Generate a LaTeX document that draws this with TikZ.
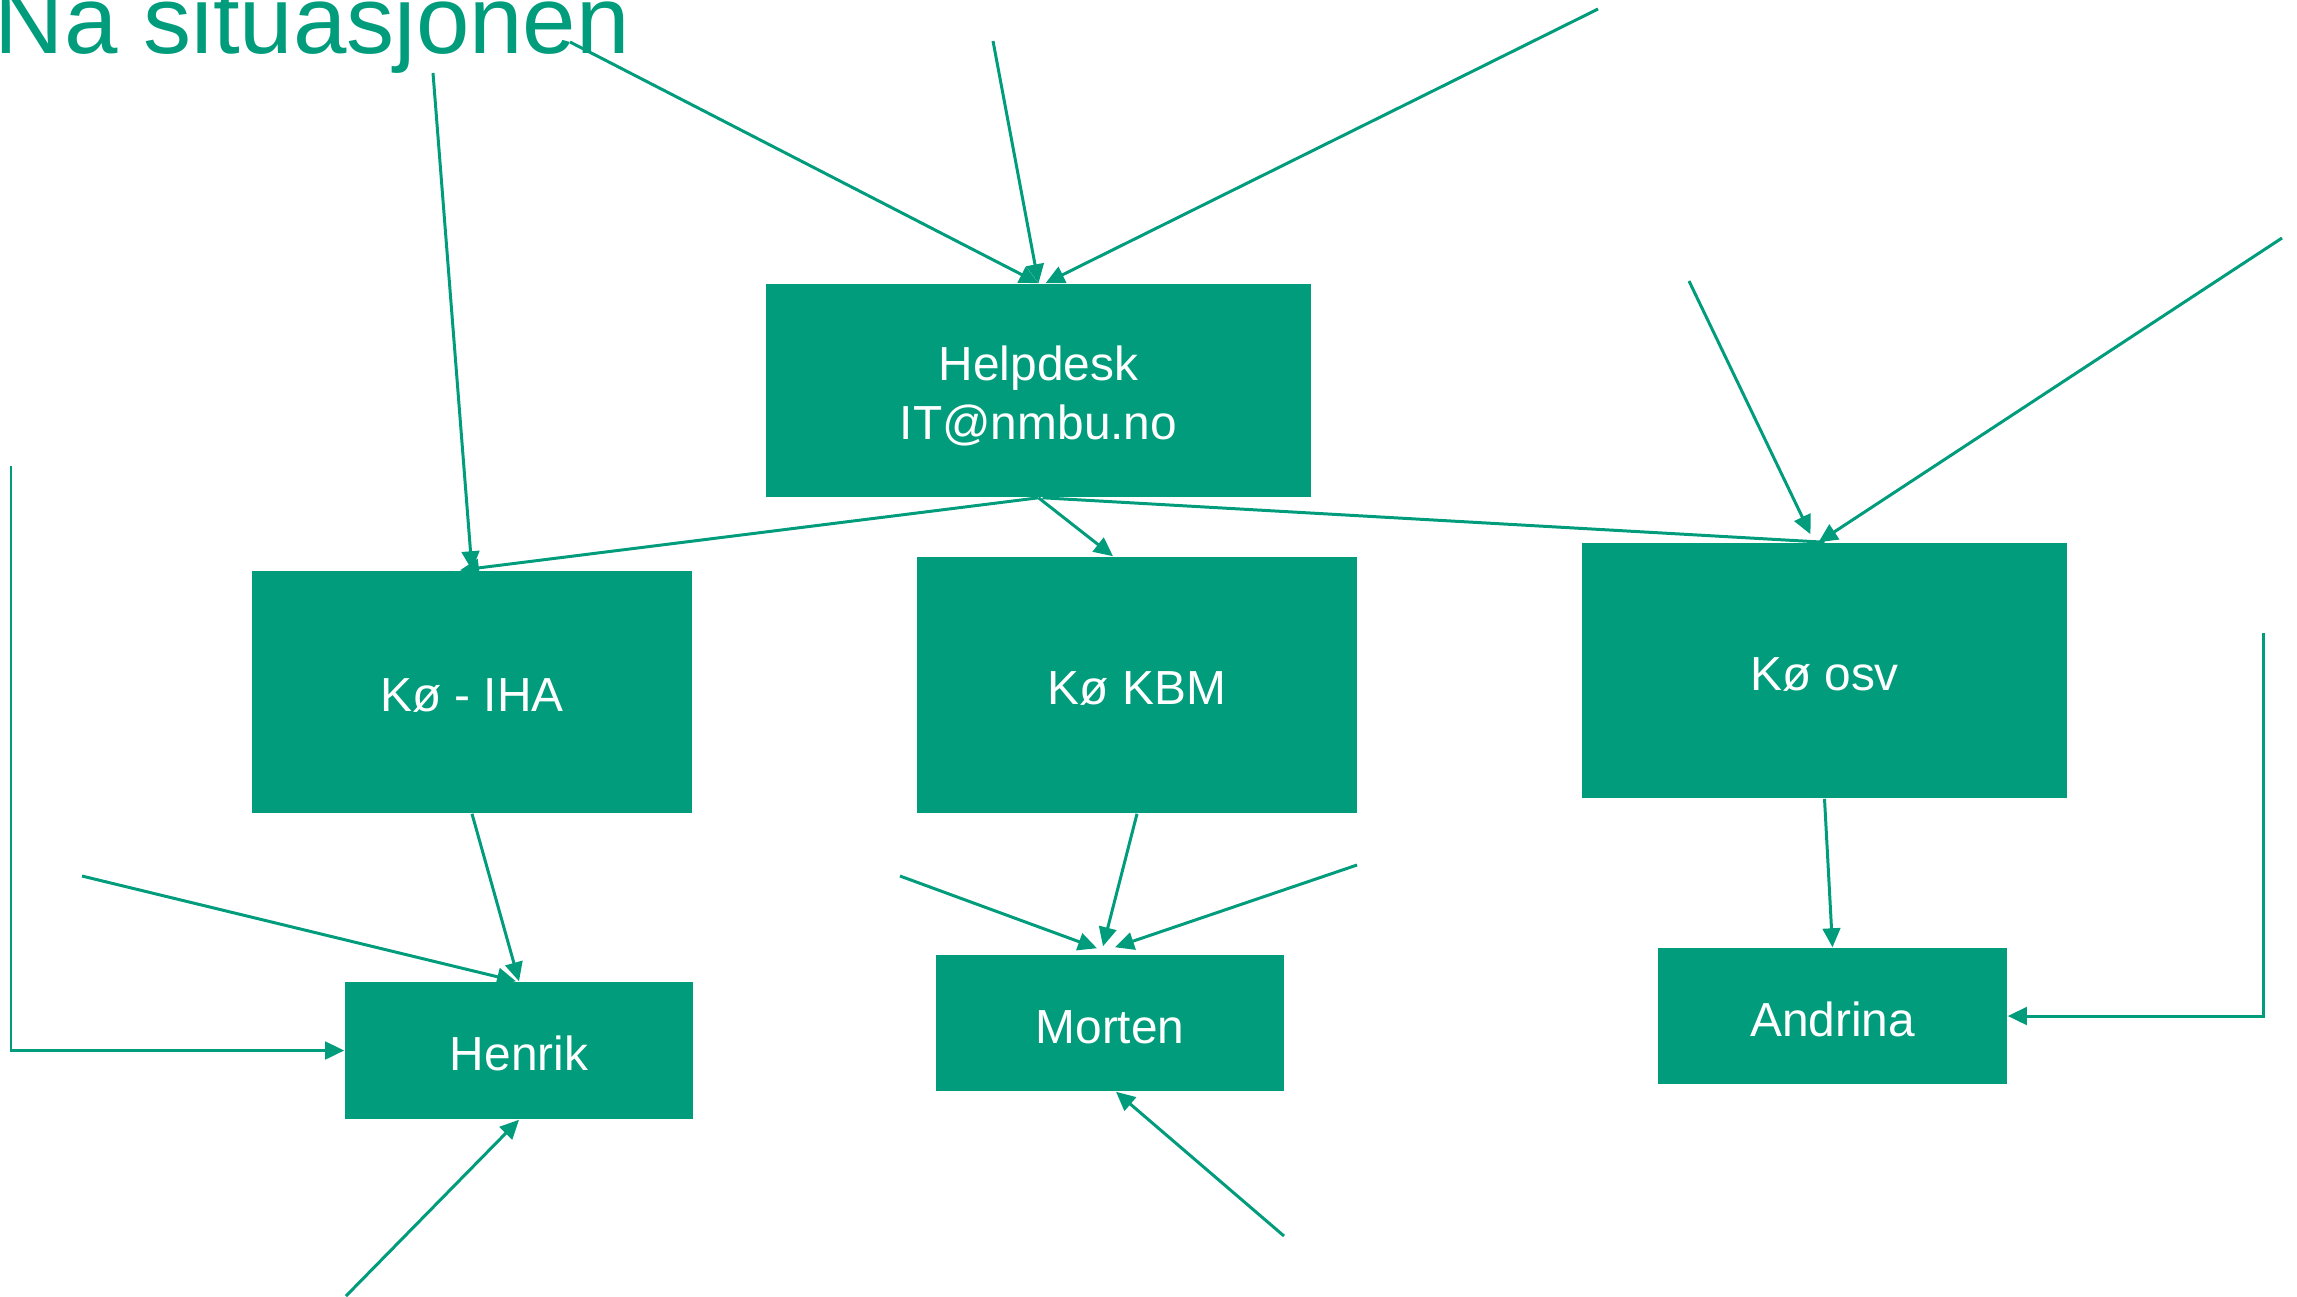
\documentclass[tikz,border=0pt]{standalone}
\usepackage{fontspec}
\setmainfont{Liberation Sans}
\usetikzlibrary{arrows.meta,calc}
\definecolor{nmbugreen}{RGB}{0,156,124}
\tikzset{
  queue/.style={fill=nmbugreen, text=white, inner sep=0pt, align=center,
    text height=11.6pt, font=\fontsize{13.6}{16.9}\selectfont},
  link/.style={draw=nmbugreen, line width=0.85pt, -{Triangle[length=5.4pt,width=5pt]}},
  plainlink/.style={draw=nmbugreen, line width=0.85pt}
}
\begin{document}
\begin{tikzpicture}[x=0.01cm, y=-0.01cm]
  \useasboundingbox (0,0) rectangle (2297,1296);
  % title
  \node[anchor=base west, inner sep=0pt, text=nmbugreen,
    font=\fontsize{27.3}{32}\selectfont] (title) at (-6,53) {Nå situasjonen};

  % draw boxes
  \node[queue, text height=30pt, minimum width=5.45cm, minimum height=2.13cm] (hd) at (1038.5,390.5) {Helpdesk\\IT@nmbu.no};
  \node[queue, minimum width=4.40cm, minimum height=2.42cm] (iha) at ( 472,692)     {Kø - IHA};
  \node[queue, minimum width=4.40cm, minimum height=2.56cm] (kbm) at (1137,685)     {Kø KBM};
  \node[queue, minimum width=4.85cm, minimum height=2.55cm] (osv) at (1824.5,670.5) {Kø osv};
  \node[queue, minimum width=3.48cm, minimum height=1.37cm] (henrik)  at ( 519,1050.5) {Henrik};
  \node[queue, minimum width=3.48cm, minimum height=1.36cm] (morten)  at (1110,1023)   {Morten};
  \node[queue, minimum width=3.49cm, minimum height=1.36cm] (andrina) at (1832.5,1016) {Andrina};

  % free ends
  \coordinate (in1)  at ( 433,  73);
  \coordinate (in2)  at ( 570,  42);
  \coordinate (in3)  at ( 993,  41);
  \coordinate (in4)  at (1598,   9);
  \coordinate (in8)  at (1689, 281);
  \coordinate (in9)  at (2282, 238);
  \coordinate (in11) at (  82, 876);
  \coordinate (in12) at (  11, 466);
  \coordinate (in13) at ( 346,1296);
  \coordinate (in15) at ( 900, 876);
  \coordinate (in16) at (1357, 865);
  \coordinate (in17) at (1284,1236);
  \coordinate (in19) at (2263, 633);

  % draw arrows
  % helpdesk
  \draw[link] (in1) -- (iha.north);
  \draw[link] (in2) -- (hd.north);
  \draw[link] (in3) -- (hd.north);
  \draw[link] (in4) -- ($(hd.north)+(7,0)$);
  \draw[link] (hd.south) -- ($(iha.north)+(-12,0)$);
  \draw[link] (hd.south) -- ($(kbm.north)+(-24,0)$);
  \draw[plainlink] ($(hd.south)+(4,0)$) -- (osv.north);
  \draw[link] (in8) -- ($(osv.north)+(-14,-8)$);
  \draw[link] (in9) -- ($(osv.north)+(-6,0)$);
  % queues
  \draw[link] (iha.south) -- (henrik.north);
  \draw[link] (kbm.south) -- ($(morten.north)+(-7,-8)$);
  \draw[link] (osv.south) -- (andrina.north);
  % people
  \draw[link] (in11) -- ($(henrik.north)+(-3,0)$);
  \draw[link] (in12) |- (henrik.west);
  \draw[link] (in13) -- (henrik.south);
  \draw[link] (in15) -- ($(morten.north)+(-13,-6)$);
  \draw[link] (in16) -- ($(morten.north)+(5,-7)$);
  \draw[link] (in17) -- ($(morten.south)+(6,0)$);
  \draw[link] (in19) |- (andrina.east);
\end{tikzpicture}
\end{document}
